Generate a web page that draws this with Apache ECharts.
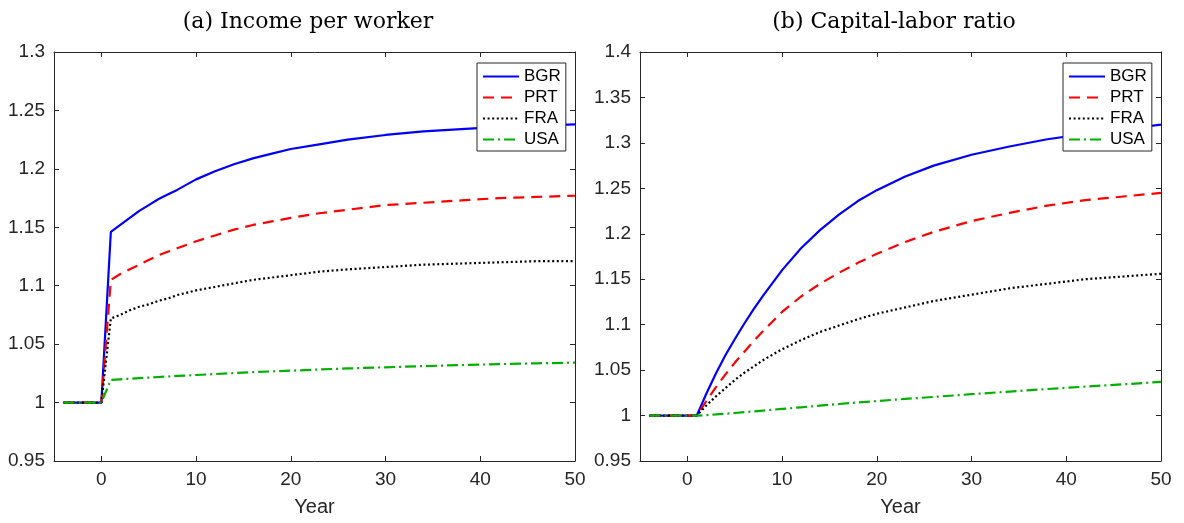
<!DOCTYPE html>
<html><head><meta charset="utf-8">
<script src="https://cdn.jsdelivr.net/npm/echarts@6/dist/echarts.min.js"></script>
<style>html,body{margin:0;padding:0;background:#fff}#c{width:1184px;height:523px}</style>
</head><body><div id="c"></div>
<script>
// Years on the horizontal axis
const years = [-4,-3,-2,-1,0,1,2,3,4,5,6,7,8,10,12,14,16,18,20,23,26,30,34,38,42,46,50];
// (a) Income per worker
const incomeBGR = [1,1,1,1,1,1.146,1.152,1.158,1.164,1.169,1.174,1.178,1.182,1.191,1.198,1.204,1.209,1.213,1.217,1.221,1.225,1.229,1.232,1.234,1.236,1.237,1.238];
const incomePRT = [1,1,1,1,1,1.105,1.110,1.114,1.118,1.122,1.126,1.129,1.132,1.138,1.143,1.148,1.152,1.155,1.158,1.162,1.165,1.169,1.171,1.173,1.175,1.176,1.177];
const incomeFRA = [1,1,1,1,1,1.072,1.075,1.079,1.082,1.084,1.087,1.089,1.092,1.096,1.099,1.102,1.105,1.107,1.109,1.112,1.114,1.116,1.118,1.119,1.120,1.121,1.121];
const incomeUSA = [1,1,1,1,1,1.0194,1.0199,1.0204,1.0209,1.0214,1.0219,1.0223,1.0228,1.0236,1.0244,1.0252,1.0260,1.0267,1.0273,1.0283,1.0292,1.0302,1.0312,1.0321,1.0329,1.0336,1.0342];
// (b) Capital-labor ratio
const capBGR = [1,1,1,1,1,1.000,1.024,1.046,1.066,1.084,1.101,1.117,1.132,1.160,1.184,1.204,1.221,1.236,1.248,1.263,1.275,1.287,1.296,1.304,1.310,1.315,1.320];
const capPRT = [1,1,1,1,1,1.000,1.016,1.031,1.045,1.058,1.070,1.082,1.093,1.114,1.131,1.145,1.157,1.168,1.178,1.191,1.202,1.214,1.223,1.231,1.237,1.241,1.245];
const capFRA = [1,1,1,1,1,1.000,1.011,1.021,1.030,1.039,1.047,1.054,1.061,1.073,1.083,1.092,1.099,1.106,1.112,1.119,1.126,1.133,1.140,1.145,1.150,1.153,1.156];
const capUSA = [1,1,1,1,1,1.000,1.0005,1.0012,1.0020,1.0028,1.0037,1.0046,1.0055,1.0073,1.0091,1.0109,1.0127,1.0144,1.0160,1.0183,1.0205,1.0235,1.0264,1.0292,1.0318,1.0344,1.0370];
// Labels
const countries = ['BGR','PRT','FRA','USA'];
const panelTitles = ['(a) Income per worker','(b) Capital-labor ratio'];
const xTickValues = [0,10,20,30,40,50];
const xLabel = 'Year';

const AX = '#262626';
const SANS = 'Liberation Sans, Arial, sans-serif';
const styles = {
  BGR: {color:'#0000ff', type:'solid'},
  PRT: {color:'#ff0000', type:[11,7]},
  FRA: {color:'#000000', type:[2,2.6]},
  USA: {color:'#00b000', type:[11,4,2,4]}
};
const pair = (ys) => years.map((x,i) => [x, ys[i]]);
const fmt = v => String(+(+v).toFixed(2));

const grids = [
  {left:54, top:52, width:521, height:409},
  {left:640, top:52, width:521, height:409}
];
const xAxis = [], yAxis = [];
[[0.95,1.3],[0.95,1.4]].forEach((r,gi) => {
  xAxis.push({type:'value', gridIndex:gi, min:-5, max:50, position:'bottom',
    axisLine:{show:true, onZero:false, lineStyle:{color:AX, width:1}},
    axisTick:{show:true, inside:true, length:5, customValues:xTickValues, lineStyle:{color:AX}},
    axisLabel:{customValues:xTickValues, color:AX, fontFamily:SANS, fontSize:19, margin:9},
    splitLine:{show:false},
    name:xLabel, nameLocation:'middle', nameGap:36,
    nameTextStyle:{color:AX, fontFamily:SANS, fontSize:20}});
  xAxis.push({type:'value', gridIndex:gi, min:-5, max:50, position:'top',
    axisLine:{show:true, onZero:false, lineStyle:{color:AX, width:1}},
    axisTick:{show:true, inside:true, length:5, customValues:xTickValues, lineStyle:{color:AX}},
    axisLabel:{show:false}, splitLine:{show:false}});
  yAxis.push({type:'value', gridIndex:gi, min:r[0], max:r[1], interval:0.05, position:'left',
    axisLine:{show:true, onZero:false, lineStyle:{color:AX, width:1}},
    axisTick:{show:true, inside:true, length:5, lineStyle:{color:AX}},
    axisLabel:{color:AX, fontFamily:SANS, fontSize:19, margin:9, formatter:fmt},
    splitLine:{show:false}});
  yAxis.push({type:'value', gridIndex:gi, min:r[0], max:r[1], interval:0.05, position:'right',
    axisLine:{show:true, onZero:false, lineStyle:{color:AX, width:1}},
    axisTick:{show:true, inside:true, length:5, lineStyle:{color:AX}},
    axisLabel:{show:false}, splitLine:{show:false}});
});

const panelData = [
  [incomeBGR, incomePRT, incomeFRA, incomeUSA],
  [capBGR, capPRT, capFRA, capUSA]
];
const series = [];
panelData.forEach((arrs, gi) => {
  arrs.forEach((ys, k) => {
    const name = countries[k];
    series.push({type:'line', name, xAxisIndex:gi*2, yAxisIndex:gi*2, data:pair(ys),
      symbol:'none', showSymbol:false, smooth:false, animation:false,
      lineStyle:{color:styles[name].color, type:styles[name].type, width:2.2},
      itemStyle:{color:styles[name].color}, z:2+k});
  });
});

const legends = [477, 1063].map(l => ({
  left:l, top:63, orient:'vertical', data:countries,
  itemWidth:36, itemHeight:17, itemGap:4, padding:[5,5,3,5],
  borderColor:AX, borderWidth:1, backgroundColor:'#fff', borderRadius:0,
  selectedMode:false,
  itemStyle:{opacity:0},
  textStyle:{color:'#000', fontFamily:SANS, fontSize:17, lineHeight:17}
}));

const titles = panelTitles.map((t, i) => ({
  text:t, left:[303, 889][i], top:6, textAlign:'center',
  textStyle:{fontFamily:'DejaVu Serif, serif', fontWeight:'normal', fontSize:22, color:'#000'}
}));

const chart = echarts.init(document.getElementById('c'));
chart.setOption({
  animation:false,
  backgroundColor:'#fff',
  title:titles,
  grid:grids, xAxis, yAxis, legend:legends, series
});
</script></body></html>
